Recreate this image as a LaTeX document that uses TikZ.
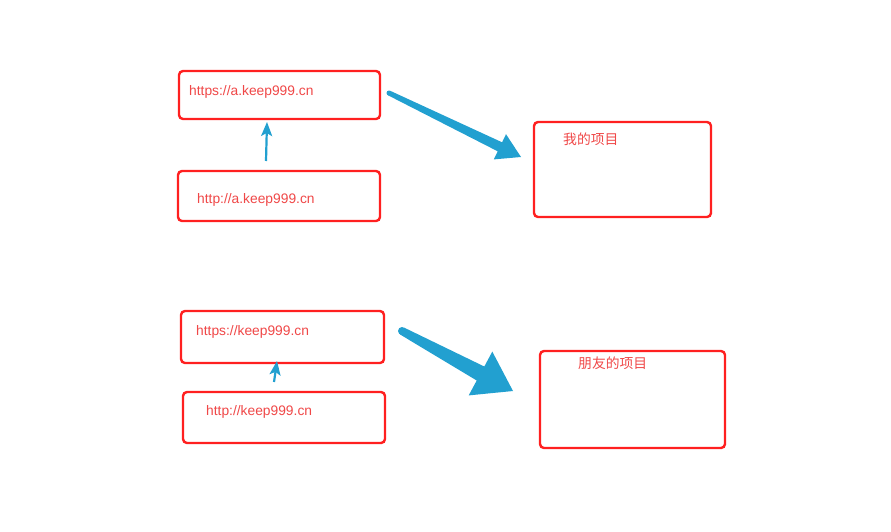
\documentclass[tikz,border=0pt]{standalone}
\usepackage{fontspec}
\setmainfont{Liberation Sans}
\newfontfamily\cjk{Noto Sans CJK SC}
\usetikzlibrary{arrows.meta}
\definecolor{boxred}{HTML}{FF2020}
\definecolor{txtred}{HTML}{F04848}
\definecolor{arrblue}{HTML}{22A0D0}
\tikzset{
  box/.style={draw=boxred, line width=2.4pt, rounded corners=4pt, rectangle, inner sep=0pt, fill=white},
  lbl/.style={anchor=west, inner sep=0pt, text=txtred, font=\fontsize{13.8}{16}\selectfont},
  thinarrow/.style={draw=arrblue, line width=2.2pt, -{Stealth[length=14pt,width=11pt,inset=3pt]}},
  fatarrow/.style={fill=arrblue, draw=none}
}
\begin{document}
\begin{tikzpicture}[x=1pt,y=-1pt]
\useasboundingbox (0,0) rectangle (891,531);
% boxes
\node[box, minimum width=201pt, minimum height=48pt] (a1) at (279.5,95) {};
\node[box, minimum width=202pt, minimum height=50pt] (a2) at (279,196) {};
\node[box, minimum width=177pt, minimum height=95pt] (p1) at (622.5,169.5) {};
\node[box, minimum width=203pt, minimum height=52pt] (b1) at (282.5,337) {};
\node[box, minimum width=202pt, minimum height=51pt] (b2) at (284,417.5) {};
\node[box, minimum width=185pt, minimum height=97pt] (p2) at (632.5,399.5) {};
% labels
\node[lbl] (ta1) at (189,92) {https://a.keep999.cn};
\node[lbl] (ta2) at (197,200) {http://a.keep999.cn};
\node[lbl] (tp1) at (563,139.5) {\cjk 我的项目};
\node[lbl] (tb1) at (196,332) {https://keep999.cn};
\node[lbl] (tb2) at (206,412) {http://keep999.cn};
\node[lbl] (tp2) at (578,363.5) {\cjk 朋友的项目};
% small arrows
\coordinate (sa1) at (266,161);
\coordinate (ea1) at (267,122);
\draw[thinarrow] (sa1) -- (ea1);
\coordinate (sb1) at (274,382);
\coordinate (eb1) at (277,361);
\draw[thinarrow] (sb1) -- (eb1);
% fat arrow 1
\coordinate (t1) at (389,93);
\coordinate (h1) at (521,157);
\fill[fatarrow] (390.1,90.75) -- (502.1,142.3) -- (506.0,134.2) -- (h1) -- (493.8,159.4) -- (497.7,151.3) -- (387.9,95.25) -- cycle;
\fill[fatarrow] (t1) circle (2.5);
% fat arrow 2
\coordinate (t2) at (402,331);
\coordinate (h2) at (513,391);
\fill[fatarrow] (403.9,327.5) -- (484.3,366.5) -- (492.3,351.6) -- (h2) -- (468.7,395.4) -- (476.7,380.5) -- (400.1,334.5) -- cycle;
\fill[fatarrow] (t2) circle (4);
\end{tikzpicture}
\end{document}
